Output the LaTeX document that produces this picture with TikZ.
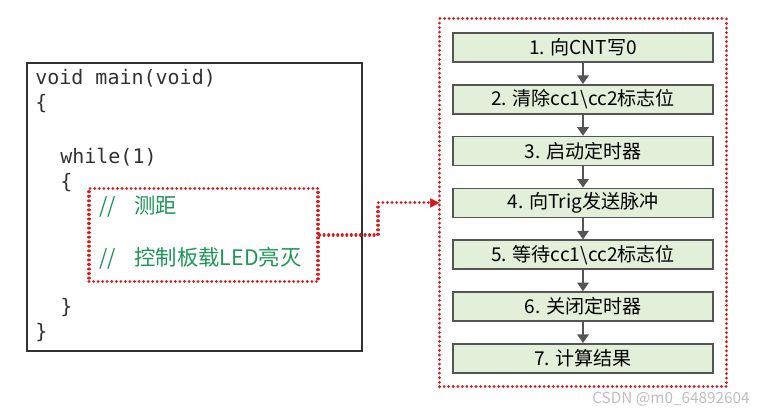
\documentclass[tikz,border=0pt]{standalone}
\usepackage{fontspec}
\setmainfont{Noto Sans CJK SC}
\setmonofont{DejaVu Sans Mono}
\newfontfamily\cjk{Noto Sans CJK SC}
\usetikzlibrary{arrows.meta, positioning, fit}
\definecolor{codegray}{RGB}{50, 50, 50}
\definecolor{cmtgreen}{RGB}{30, 150, 85}
\definecolor{linkred}{RGB}{215, 25, 25}
\definecolor{stepfill}{RGB}{226, 239, 217}
\definecolor{stepdraw}{RGB}{85, 85, 85}

\begin{document}
\begin{tikzpicture}[
    x=0.75pt, y=-0.75pt,
    node distance=16pt,
    code/.style={anchor=base west, inner sep=0pt, text=codegray, font=\ttfamily\fontsize{15}{15}\selectfont},
    cmt/.style={anchor=base west, inner sep=0pt, text=cmtgreen, font=\cjk\fontsize{16}{16}\selectfont},
    codebox/.style={draw=codegray, line width=1.1pt, minimum width=251pt, minimum height=216pt, inner sep=0pt},
    redbox/.style={draw=linkred, line width=2.3pt, dash pattern=on 0.01pt off 3.4pt, line cap=round},
    stepbox/.style={draw=stepdraw, fill=stepfill, line width=1.1pt, minimum width=195pt, minimum height=21.75pt, inner sep=0pt, font=\cjk\fontsize{14.3}{14.3}\selectfont},
    flow/.style={-{Triangle[length=6.5pt, width=8.5pt]}, line width=1.8pt, stepdraw},
    link/.style={redbox, -{Triangle[length=7pt, width=7pt, fill=linkred, line width=0.4pt]}, shorten >=-1pt}
]
    \useasboundingbox (0,0) rectangle (762,414);

    % Code on the left
    \node[codebox] (main) at (194.5,207) {};
    \node[code] (l1) at (35,84) {void main(void)};
    \node[code] (l2) at (35,109) {\{};
    \node[code] (l3) at (60,163) {while(1)};
    \node[code] (l4) at (60,188) {\{};
    \node[code] (l5) at (60,313) {\}};
    \node[code] (l6) at (35,338) {\}};

    % Comments inside the loop
    \node[redbox, minimum width=171.75pt, minimum height=70pt, inner sep=0pt] (body) at (203.5,235) {};
    \node[cmt] (c1) at (99,213) {//\hspace{14pt}测距};
    \node[cmt] (c2) at (99,265) {//\hspace{14pt}控制板载LED亮灭};

    % Steps
    \node[stepbox] (step1) at (583,47.5) {1. 向CNT写0};
    \node[stepbox, below=of step1] (step2) {2. 清除cc1\textbackslash cc2标志位};
    \node[stepbox, below=of step2] (step3) {3. 启动定时器};
    \node[stepbox, below=of step3] (step4) {4. 向Trig发送脉冲};
    \node[stepbox, below=of step4] (step5) {5. 等待cc1\textbackslash cc2标志位};
    \node[stepbox, below=of step5] (step6) {6. 关闭定时器};
    \node[stepbox, below=of step6] (step7) {7. 计算结果};

    \foreach \a/\b in {1/2, 2/3, 3/4, 4/5, 5/6, 6/7}
        \draw[flow] (step\a) -- (step\b);

    % Dotted frame and link
    \node[redbox, fit=(step1)(step7), inner xsep=9.5pt, inner ysep=10pt] (steps) {};
    \coordinate (bend) at (378,235);
    \draw[link] (body.east) -- (bend) |- (steps.west |- step4.west);

    % Watermark
    \node[anchor=east, text=black!25, font=\cjk\fontsize{11.5}{11.5}\selectfont, inner sep=0pt] (mark) at (750,399) {CSDN @m0\_64892604};
\end{tikzpicture}
\end{document}
